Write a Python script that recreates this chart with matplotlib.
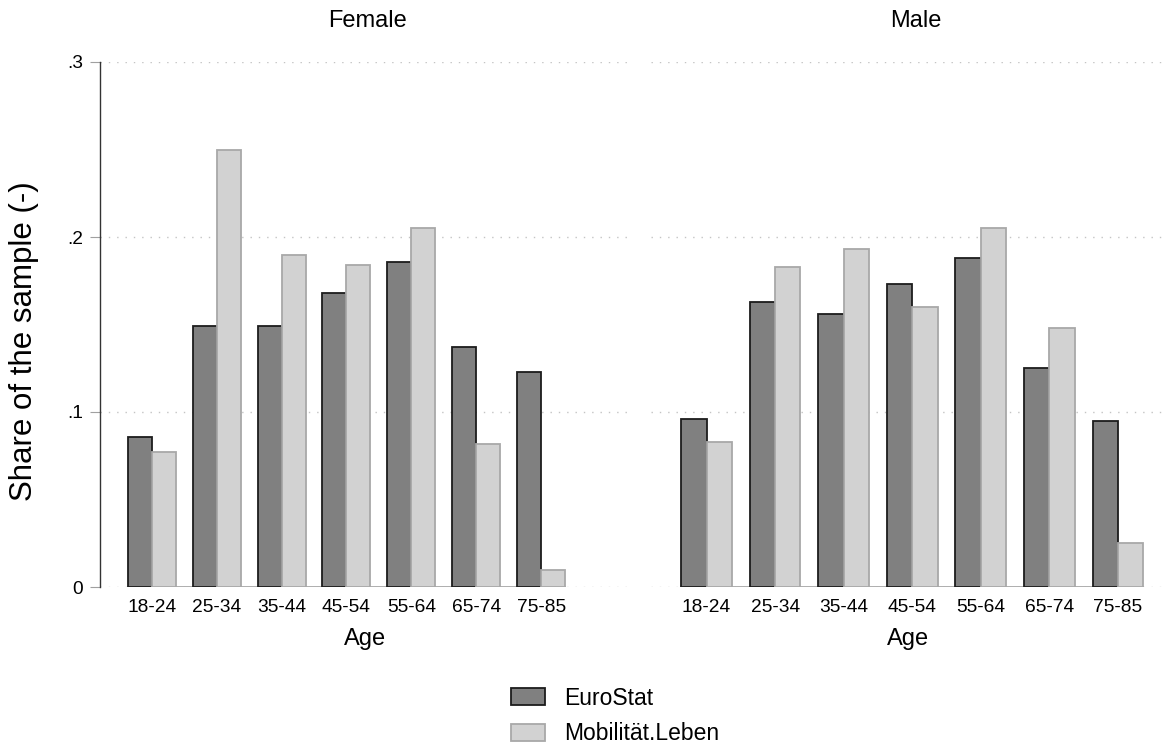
import matplotlib
matplotlib.use("Agg")
import matplotlib.pyplot as plt
import numpy as np
from matplotlib.patches import Patch

plt.rcParams['font.family'] = ['Liberation Sans', 'DejaVu Sans']

ages = ["18-24", "25-34", "35-44", "45-54", "55-64", "65-74", "75-85"]
panels = ["Female", "Male"]
series = ["EuroStat", "Mobilität.Leben"]

female_eurostat = [0.086, 0.149, 0.149, 0.168, 0.186, 0.137, 0.123]
female_mobil = [0.077, 0.250, 0.190, 0.184, 0.205, 0.082, 0.010]
male_eurostat = [0.096, 0.163, 0.156, 0.173, 0.188, 0.125, 0.095]
male_mobil = [0.083, 0.183, 0.193, 0.160, 0.205, 0.148, 0.025]

ytick_vals = [0, 0.1, 0.2, 0.3]
ytick_text = ["0", ".1", ".2", ".3"]

dark_fill, dark_edge = "#808080", "#1c1c1c"
light_fill, light_edge = "#d2d2d2", "#a8a8a8"

W, H = 1170, 749
fig = plt.figure(figsize=(W / 100, H / 100), dpi=100)

def frac(x0, x1):
    return x0 / W, (x1 - x0) / W

ybot = 1 - 587 / H
yh = 525 / H
# pixel extents and x-limits measured per panel
layout = [
    (100, 630, (-0.797, 7.37)),
    (651, 1166, (-0.81, 6.70)),
]
data = [(female_eurostat, female_mobil), (male_eurostat, male_mobil)]
title_x = [367, 916]

bw = 0.37
x = np.arange(len(ages))
for k, (px0, px1, xl) in enumerate(layout):
    l, w = frac(px0, px1)
    ax = fig.add_axes([l, ybot, w, yh])
    euro, mob = data[k]
    ax.bar(x - bw / 2, euro, bw, color=dark_fill, edgecolor=dark_edge, linewidth=1.3, zorder=3)
    ax.bar(x + bw / 2, mob, bw, color=light_fill, edgecolor=light_edge, linewidth=1.3, zorder=3)
    ax.set_xlim(*xl)
    ax.set_ylim(0, 0.3)
    ax.set_yticks(ytick_vals)
    for yv in ytick_vals:
        ax.axhline(yv, color="#c4c4c4", linewidth=1.0, linestyle=(0, (1, 5)), zorder=1)
    x0 = (x[0] - bw - xl[0]) / (xl[1] - xl[0])
    x1 = (x[-1] + bw - xl[0]) / (xl[1] - xl[0])
    ax.axhline(0, x0, x1, color="#a8a8a8", linewidth=1.3, zorder=2)
    for s in ["top", "right", "bottom"]:
        ax.spines[s].set_visible(False)
    ax.set_xticks(x)
    ax.set_xticklabels(ages, fontsize=13.8)
    ax.tick_params(axis="x", length=0, pad=9)
    ax.set_xlabel("Age", fontsize=17, labelpad=8)
    if k == 0:
        ax.spines["left"].set_color("#333333")
        ax.spines["left"].set_linewidth(1.0)
        ax.set_yticklabels(ytick_text, fontsize=13.8)
        ax.tick_params(axis="y", length=7, color="#a0a0a0", pad=5)
    else:
        ax.spines["left"].set_visible(False)
        ax.tick_params(axis="y", length=0, labelleft=False)
    fig.text(title_x[k] / W, 1 - 27 / H, panels[k], ha="center", va="baseline", fontsize=17)

fig.text(24 / W, 1 - 341 / H, "Share of the sample (-)", rotation=90, ha="center", va="center", fontsize=22.5)

handles = [Patch(facecolor=dark_fill, edgecolor=dark_edge, linewidth=1.3),
           Patch(facecolor=light_fill, edgecolor=light_edge, linewidth=1.3)]
fig.legend(handles, series, loc="center left", bbox_to_anchor=(511 / W, 1 - 716 / H),
           frameon=False, fontsize=16.5, handlelength=1.5, handleheight=0.75,
           handletextpad=0.8, labelspacing=0.55, borderpad=0, borderaxespad=0)

fig.savefig("out.png", dpi=100, facecolor="white")
